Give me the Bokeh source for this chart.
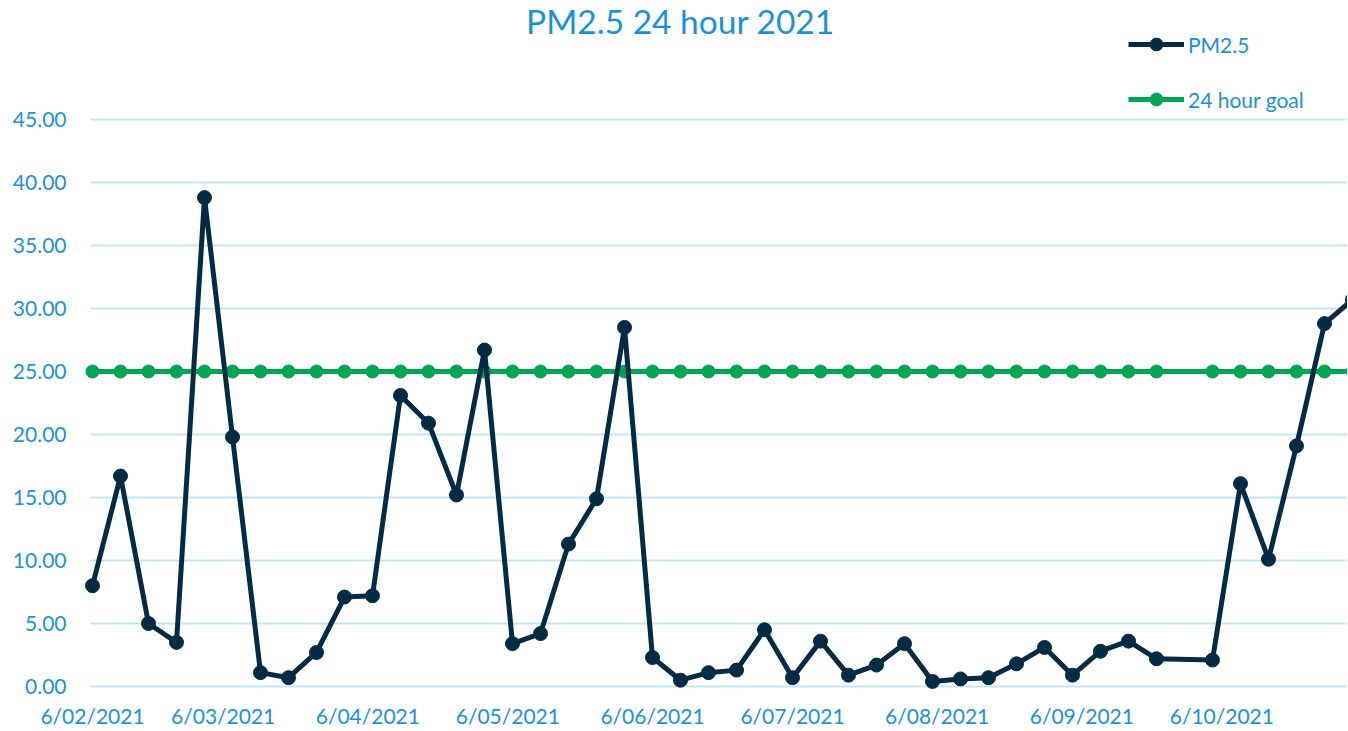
import pandas as pd
from bokeh.plotting import figure
from bokeh.models import (Range1d, FixedTicker, Legend, LegendItem, Label,
                          NumeralTickFormatter, ColumnDataSource)
from bokeh.embed import file_html
from bokeh.resources import INLINE

# ---------------- data ----------------
dates = ["2021-02-06", "2021-02-12", "2021-02-18", "2021-02-24", "2021-03-02",
         "2021-03-08", "2021-03-14", "2021-03-20", "2021-03-26", "2021-04-01",
         "2021-04-07", "2021-04-13", "2021-04-19", "2021-04-25", "2021-05-01",
         "2021-05-07", "2021-05-13", "2021-05-19", "2021-05-25", "2021-05-31",
         "2021-06-06", "2021-06-12", "2021-06-18", "2021-06-24", "2021-06-30",
         "2021-07-06", "2021-07-12", "2021-07-18", "2021-07-24", "2021-07-30",
         "2021-08-05", "2021-08-11", "2021-08-17", "2021-08-23", "2021-08-29",
         "2021-09-04", "2021-09-10", "2021-09-16", "2021-09-22",
         "2021-10-04", "2021-10-10", "2021-10-16", "2021-10-22", "2021-10-28",
         "2021-11-03"]
pm25 = [8.0, 16.7, 5.0, 3.5, 38.8,
        19.8, 1.1, 0.7, 2.7, 7.1,
        7.2, 23.1, 20.9, 15.2, 26.7,
        3.4, 4.2, 11.3, 14.9, 28.5,
        2.3, 0.5, 1.1, 1.3, 4.5,
        0.7, 3.6, 0.9, 1.7, 3.4,
        0.4, 0.6, 0.7, 1.8, 3.1,
        0.9, 2.8, 3.6, 2.2,
        2.1, 16.1, 10.1, 19.1, 28.8,
        30.7]
goal = [25.0, 25.0, 25.0, 25.0, 25.0,
        25.0, 25.0, 25.0, 25.0, 25.0,
        25.0, 25.0, 25.0, 25.0, 25.0,
        25.0, 25.0, 25.0, 25.0, 25.0,
        25.0, 25.0, 25.0, 25.0, 25.0,
        25.0, 25.0, 25.0, 25.0, 25.0,
        25.0, 25.0, 25.0, 25.0, 25.0,
        25.0, 25.0, 25.0, 25.0,
        25.0, 25.0, 25.0, 25.0, 25.0,
        25.0]
tick_dates = ["2021-02-06", "2021-03-06", "2021-04-06", "2021-05-06", "2021-06-06",
              "2021-07-06", "2021-08-06", "2021-09-06", "2021-10-06"]
tick_labels = ["6/02/2021", "6/03/2021", "6/04/2021", "6/05/2021", "6/06/2021",
               "6/07/2021", "6/08/2021", "6/09/2021", "6/10/2021"]
y_ticks = [0, 5, 10, 15, 20, 25, 30, 35, 40, 45]
title_text = "PM2.5 24 hour 2021"
series_names = ["PM2.5", "24 hour goal"]

# ---------------- style ----------------
TXT = "#1a91dc"
NAVY = "#032b44"
GREEN = "#00a651"
GRID = "#c2e5f9"
FONT = "Lato"

src = ColumnDataSource(dict(x=pd.to_datetime(dates), pm=pm25, goal=goal))

LEFT = 80            # frame starts here (so the first marker is not clipped)
GRID_LEFT = 90       # gridlines start here, as in the reference
FRAME_W = 1267
FRAME_H = 691
BOTTOM = 39
px_per_day = 28.0 / 6.0
px_per_unit = 12.6
first = pd.Timestamp(dates[0])
x_start = first - pd.Timedelta(days=(92 - LEFT) / px_per_day)
x_end = x_start + pd.Timedelta(days=FRAME_W / px_per_day)
grid_x0 = x_start + pd.Timedelta(days=(GRID_LEFT - LEFT) / px_per_day)
y_bottom = -5.0 / px_per_unit
y_top = y_bottom + FRAME_H / px_per_unit

p = figure(frame_width=FRAME_W, frame_height=FRAME_H, x_axis_type="datetime",
           x_range=Range1d(x_start, x_end), y_range=Range1d(y_bottom, y_top),
           output_backend="svg", toolbar_location=None,
           min_border_left=LEFT, min_border_right=0, min_border_top=0,
           min_border_bottom=BOTTOM)
p.outline_line_color = None
p.background_fill_color = "white"

# grids (drawn as horizontal segments starting at the plot-area edge)
p.xgrid.visible = False
p.ygrid.visible = False
grid_src = ColumnDataSource(dict(x0=[grid_x0] * len(y_ticks),
                                 x1=[x_end] * len(y_ticks),
                                 y=y_ticks))
g = p.segment(x0="x0", x1="x1", y0="y", y1="y", source=grid_src,
              line_color=GRID, line_width=2)

# y axis
p.yaxis.ticker = FixedTicker(ticks=y_ticks)
p.yaxis.formatter = NumeralTickFormatter(format="0.00")
p.yaxis.axis_line_color = None
p.yaxis.major_tick_line_color = None
p.yaxis.minor_tick_line_color = None
p.yaxis.major_label_text_color = TXT
p.yaxis.major_label_text_font = FONT
p.yaxis.major_label_text_font_size = "21px"
p.yaxis.major_label_standoff = 8

# x axis
tick_ms = [pd.Timestamp(d).value / 1e6 for d in tick_dates]
p.xaxis.ticker = FixedTicker(ticks=tick_ms)
p.xaxis.major_label_overrides = {t: l for t, l in zip(tick_ms, tick_labels)}
p.xaxis.axis_line_color = None
p.xaxis.major_tick_line_color = None
p.xaxis.minor_tick_line_color = None
p.xaxis.major_label_text_color = TXT
p.xaxis.major_label_text_font = FONT
p.xaxis.major_label_text_font_size = "21px"
p.xaxis.major_label_standoff = 5

# series
l1 = p.line("x", "pm", source=src, line_color=NAVY, line_width=5)
s1 = p.scatter("x", "pm", source=src, size=14, marker="circle",
               fill_color=NAVY, line_color=NAVY)
l2 = p.line("x", "goal", source=src, line_color=GREEN, line_width=5)
s2 = p.scatter("x", "goal", source=src, size=13, marker="circle",
               fill_color=GREEN, line_color=GREEN)
p.renderers = [g, l2, s2, l1, s1]

# title (inside the frame area, which reaches the top of the figure)
title = Label(x=680 - LEFT, y=FRAME_H - 20, x_units="screen", y_units="screen",
              text=title_text, text_align="center", text_baseline="middle",
              text_color=TXT, text_font=FONT, text_font_size="33.5px")
p.add_layout(title)

legend = Legend(items=[LegendItem(label=series_names[0], renderers=[l1, s1]),
                       LegendItem(label=series_names[1], renderers=[l2, s2])],
                location=(1128 - LEFT, FRAME_H - 115), orientation="vertical",
                glyph_width=56, glyph_height=32, label_height=32,
                label_standoff=4, spacing=23, padding=0, margin=0,
                border_line_color=None, background_fill_alpha=0,
                label_text_color=TXT, label_text_font=FONT,
                label_text_font_size="21px")
p.add_layout(legend, "center")

open("out.html", "w").write(file_html(p, INLINE))
